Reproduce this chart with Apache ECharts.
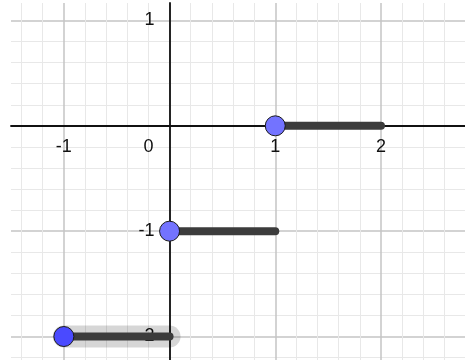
<!DOCTYPE html>
<html>
<head>
<meta charset="utf-8">
<style>
  html, body { margin: 0; padding: 0; background: #fff; }
  #chart { width: 465px; height: 360px; }
</style>
<script src="https://cdn.jsdelivr.net/npm/echarts@6/dist/echarts.min.js"></script>
</head>
<body>
<div id="chart"></div>
<script>
  // floor(x) steps: [start, end) at a given value
  var stepStarts = [-1, 0, 1];
  var stepEnds = [0, 1, 2];
  var stepValues = [-2, -1, 0];
  var pointColors = ['#4a4aff', '#7373ff', '#7373ff'];
  var selectedStep = 0;   // the highlighted one (grey halo)

  var xLabels = [-1, 0, 1, 2];
  var yLabels = [-2, -1, 1];

  var xMin = -1.5, xMax = 2.795;
  var yMin = -2.223, yMax = 1.166;

  // plot box
  var gLeft = 11, gTop = 3, W = 465 - gLeft, H = 360 - gTop;
  // move axes onto the origin (labels go with them)
  var xAxisOffset = -(H * (0 - yMin) / (yMax - yMin));
  var yAxisOffset = -(W * (0 - xMin) / (xMax - xMin));

  var chart = echarts.init(document.getElementById('chart'), null, { renderer: 'canvas' });

  var series = [];
  // halo behind selected segment
  series.push({
    type: 'line',
    silent: true,
    z: 1,
    symbol: 'none',
    lineStyle: { width: 22, color: 'rgba(0,0,0,0.16)', cap: 'round' },
    data: [[stepStarts[selectedStep], stepValues[selectedStep]], [stepEnds[selectedStep], stepValues[selectedStep]]]
  });
  stepStarts.forEach(function (s, i) {
    series.push({
      type: 'line',
      z: 3,
      lineStyle: { width: 8, color: '#3c3c3c', cap: 'round' },
      itemStyle: { color: pointColors[i], borderColor: '#1a1a1a', borderWidth: 1 },
      symbol: 'circle',
      symbolSize: 20,
      showAllSymbol: true,
      data: [
        { value: [s, stepValues[i]] },
        { value: [stepEnds[i], stepValues[i]], symbol: 'none' }
      ]
    });
  });

  var gridStyle = {
    splitLine: { show: true, showMinLine: false, showMaxLine: false, lineStyle: { color: '#c4c4c4', width: 1.5 } },
    minorTick: { show: false, splitNumber: 5 },
    minorSplitLine: { show: true, lineStyle: { color: '#e8e8e8', width: 1 } }
  };
  var font = 'Liberation Sans, Arial, sans-serif';

  chart.setOption({
    animation: false,
    grid: { left: gLeft, top: gTop, right: 0, bottom: 0, containLabel: false, outerBoundsMode: 'none' },
    xAxis: Object.assign({
      type: 'value',
      position: 'bottom',
      offset: xAxisOffset,
      min: xMin,
      max: xMax,
      minInterval: 1,
      maxInterval: 1,
      axisLine: { onZero: false, lineStyle: { color: '#111', width: 1.8 } },
      axisTick: { show: false },
      axisLabel: {
        customValues: xLabels,
        margin: 12,
        fontFamily: font,
        fontSize: 18,
        color: '#111',
        formatter: function (v) { return v === 0 ? '{z|0}' : String(v); },
        rich: { z: { fontSize: 18, fontFamily: font, color: '#111', padding: [0, 42, 0, 0] } }
      }
    }, gridStyle),
    yAxis: Object.assign({
      type: 'value',
      position: 'left',
      offset: yAxisOffset,
      min: yMin,
      max: yMax,
      minInterval: 1,
      maxInterval: 1,
      axisLine: { onZero: false, lineStyle: { color: '#111', width: 1.8 } },
      axisTick: { show: false },
      axisLabel: {
        customValues: yLabels,
        margin: 15,
        fontFamily: font,
        fontSize: 18,
        color: '#111'
      }
    }, gridStyle),
    series: series
  });
</script>
</body>
</html>
